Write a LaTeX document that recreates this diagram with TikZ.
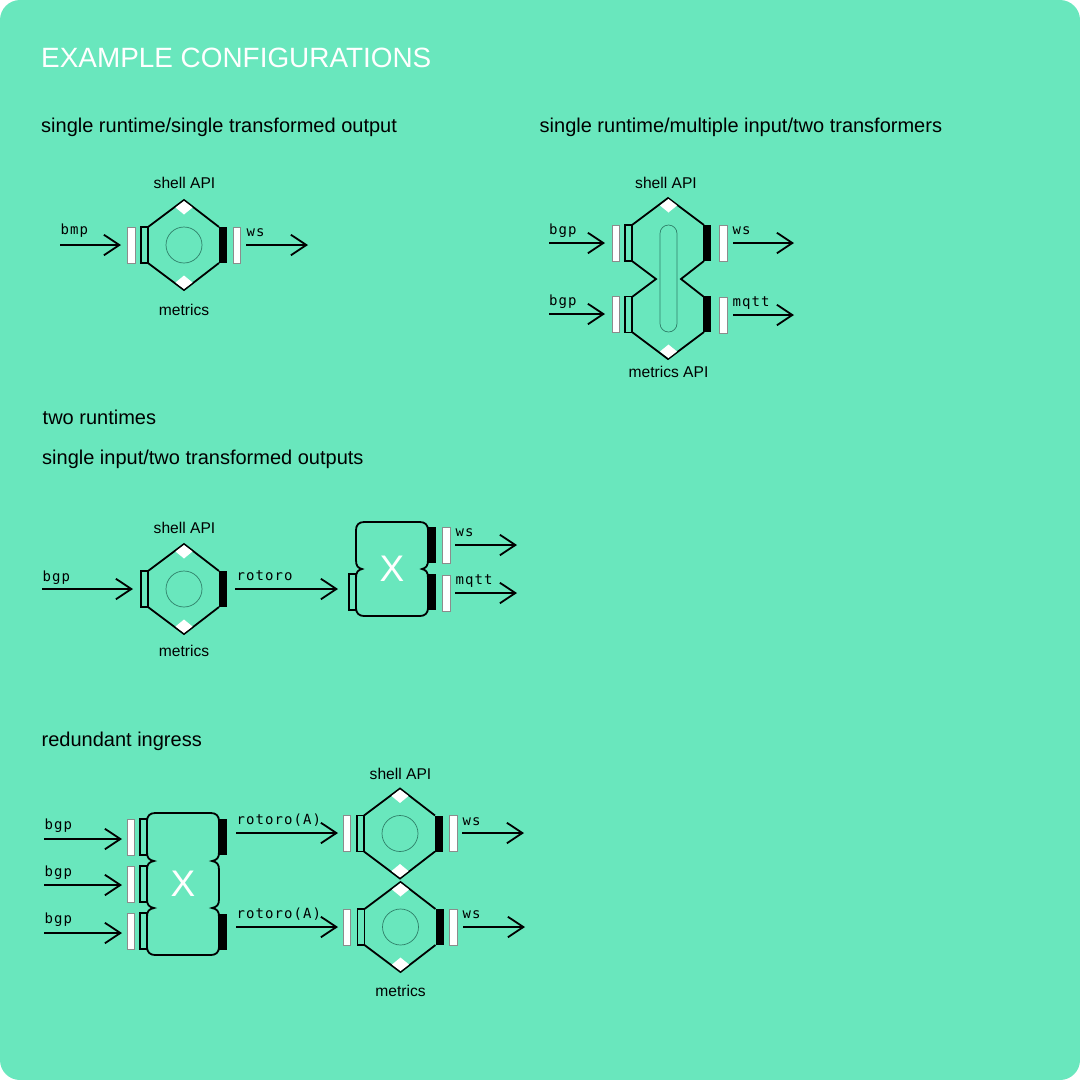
\documentclass[tikz,border=0pt]{standalone}
\usepackage{fontspec}
\setmainfont{Liberation Sans}
\newfontfamily\labfont[LetterSpace=7.5]{DejaVu Sans Mono}
\usetikzlibrary{arrows.meta}
\definecolor{bgc}{HTML}{69E7BD}
\definecolor{thinc}{HTML}{2F7F68}
\tikzset{x=1pt,y=-1pt,
 arr/.style={draw=black,line width=1.8pt,shorten >=-1pt,-{Straight Barb[length=15.5pt,width=20.5pt,line width=1.8pt]}},
 outl/.style={draw=black,line width=1.8pt,line join=miter},
 whitebar/.style={draw=black!45,line width=0.5pt,fill=white,minimum width=7.5pt,minimum height=36pt,inner sep=0pt,outer sep=0pt},
 openbar/.style={draw=black,line width=1.8pt,minimum width=6.5pt,minimum height=36pt,inner sep=0pt,outer sep=0pt},
 blackbar/.style={fill=black,draw=none,minimum width=8pt,minimum height=36pt,inner sep=0pt,outer sep=0pt},
 thinshape/.style={draw=thinc,line width=0.7pt},
 diam/.style={fill=white,draw=none},
 title/.style={font=\fontsize{27.9}{30}\selectfont,text=white,anchor=west,inner sep=0pt},
 heading/.style={font=\fontsize{20}{22}\selectfont,text=black,anchor=west,inner sep=0pt},
 api/.style={font=\fontsize{15.6}{17}\selectfont,text=black,inner sep=0pt},
 lab/.style={font=\fontsize{14}{15}\labfont,text=black,anchor=base west,inner sep=0pt},
 bigx/.style={font=\fontsize{37}{40}\selectfont,text=white,inner sep=0pt},
}
% diamond at apex: #1 x, #2 apex-y, #3 direction (+1 down / -1 up)
\newcommand{\apexdiam}[3]{\fill[diam] (#1,#2+#3*1) -- (#1+8.5,#2+#3*7.5) -- (#1,#2+#3*14.5) -- (#1-8.5,#2+#3*7.5) -- cycle;}
\newcommand{\hexcell}[3]{% name, cx, cy
 \begin{scope}[shift={(#2,#3)}]
  \draw[outl] (-36,-18) -- (0,-45) -- (35,-18);
  \draw[outl] (-36,18) -- (0,45) -- (35,18);
  \apexdiam{0}{-45}{1}
  \apexdiam{0}{45}{-1}
  \node[openbar,minimum width=7pt] (#1l) at (-39.5,0) {};
  \node[blackbar] (#1r) at (39,0) {};
  \draw[thinshape] (0,0) circle (18);
 \end{scope}}
\begin{document}
\begin{tikzpicture}
\useasboundingbox (0,0) rectangle (1080,1080);
\fill[white] (0,0) rectangle (1080,1080);
\fill[bgc,rounded corners=20pt] (0,0) rectangle (1080,1080);
\node[title] (t0) at (41,58) {EXAMPLE CONFIGURATIONS};
\node[heading] (h1) at (41,127) {single runtime/single transformed output};
\node[heading] (h2) at (539.5,127) {single runtime/multiple input/two transformers};
\node[heading] (h3) at (42.5,417) {two runtimes};
\node[heading] (h4) at (42,459) {single input/two transformed outputs};
\node[heading] (h5) at (41.5,741) {redundant ingress};

% --- config 1
\hexcell{a}{184}{245}
\node[whitebar] (aw1) at (131,245) {};
\node[whitebar] (aw2) at (236.5,245) {};
\node[api] (aup) at (184.5,183) {shell API};
\node[api] (adn) at (184,310) {metrics};
\node[lab] (al1) at (60.5,234) {bmp};
\node[lab] (al2) at (246.5,236) {ws};
\coordinate (a1s) at (60,245); \coordinate (a1e) at (120,245);
\coordinate (a2s) at (246,245); \coordinate (a2e) at (307,245);
\draw[arr] (a1s) -- (a1e);
\draw[arr] (a2s) -- (a2e);

% --- config 2
\draw[outl] (632,225) -- (668,198) -- (704,225);
\draw[outl] (632,261) -- (656,279) -- (632,297);
\draw[outl] (704,261) -- (681,279) -- (704,297);
\draw[outl] (632,332) -- (668,359) -- (704,332);
\apexdiam{668.5}{198}{1}
\apexdiam{668.5}{359}{-1}
\node[openbar,minimum width=7pt] (b1l) at (628.5,243) {};
\node[openbar,minimum width=7pt] (b2l) at (628.5,314.5) {};
\node[blackbar] (b1r) at (707,243) {};
\node[blackbar] (b2r) at (707,314) {};
\draw[thinshape] (660,233.5) arc[start angle=180,end angle=360,radius=8.5] -- (677,323.5) arc[start angle=0,end angle=180,radius=8.5] -- cycle;
\node[whitebar] (bw1) at (615.5,243) {};
\node[whitebar] (bw2) at (615.5,314.5) {};
\node[whitebar] (bw3) at (723,243) {};
\node[whitebar] (bw4) at (723,315) {};
\node[api] (bup) at (666,183) {shell API};
\node[api] (bdn) at (668.5,372) {metrics API};
\node[lab] (bl1) at (549,234) {bgp};
\node[lab] (bl2) at (549,305) {bgp};
\node[lab] (bl3) at (732.5,234) {ws};
\node[lab] (bl4) at (732.5,306) {mqtt};
\coordinate (b1s) at (549,243); \coordinate (b1e) at (604,243);
\coordinate (b2s) at (549,314); \coordinate (b2e) at (604,314);
\coordinate (b3s) at (733,243); \coordinate (b3e) at (793,243);
\coordinate (b4s) at (733,315); \coordinate (b4e) at (793,315);
\draw[arr] (b1s) -- (b1e);
\draw[arr] (b2s) -- (b2e);
\draw[arr] (b3s) -- (b3e);
\draw[arr] (b4s) -- (b4e);

% --- config 3
\hexcell{c}{184}{589}
\node[api] (cup) at (184.5,528) {shell API};
\node[api] (cdn) at (184,651) {metrics};
\node[lab] (cl1) at (42.5,581) {bgp};
\node[lab] (cl2) at (236.5,580.5) {rotoro};
\node[openbar,minimum width=7pt] (xl) at (352.5,592) {};
\draw[outl,fill=bgc] (364,522) -- (420,522) .. controls (425,522) and (428,525) .. (428,530)
 -- (428,560) .. controls (428,566) and (426,568) .. (422,569)
 .. controls (426,570) and (428,572) .. (428,578)
 -- (428,608) .. controls (428,613) and (425,616) .. (420,616)
 -- (364,616) .. controls (359,616) and (356,613) .. (356,608)
 -- (356,578) .. controls (356,572) and (358,570) .. (362,569)
 .. controls (358,568) and (356,566) .. (356,560)
 -- (356,530) .. controls (356,525) and (359,522) .. (364,522) -- cycle;
\node[blackbar] (xr1) at (431.5,545) {};
\node[blackbar] (xr2) at (431.5,592) {};
\node[bigx] (xx) at (392,569) {X};
\node[whitebar] (xw1) at (446,545) {};
\node[whitebar] (xw2) at (446,593) {};
\node[lab] (xl1) at (455.5,536) {ws};
\node[lab] (xl2) at (455.5,584) {mqtt};
\coordinate (c1s) at (42,589);
\coordinate (c3s) at (455,545); \coordinate (c3e) at (516,545);
\coordinate (c4s) at (455,593); \coordinate (c4e) at (516,593);
\coordinate (c1e) at (132,589);
\coordinate (c2s) at (235,589); \coordinate (c2e) at (337,589);
\draw[arr] (c1s) -- (c1e);
\draw[arr] (c2s) -- (c2e);
\draw[arr] (c3s) -- (c3e);
\draw[arr] (c4s) -- (c4e);

% --- config 4
\node[openbar,minimum width=7pt] (yl1) at (143.5,837) {};
\node[openbar,minimum width=7pt] (yl2) at (143.5,884) {};
\node[openbar,minimum width=7pt] (yl3) at (143.5,931) {};
\draw[outl,fill=bgc] (155,813) -- (211,813) .. controls (216,813) and (219,816) .. (219,821)
 -- (219,852) .. controls (219,858) and (217,860) .. (212,861)
 .. controls (217,862) and (219,864) .. (219,870)
 -- (219,899) .. controls (219,905) and (217,907) .. (212,908)
 .. controls (217,909) and (219,911) .. (219,917)
 -- (219,947) .. controls (219,952) and (216,955) .. (211,955)
 -- (155,955) .. controls (150,955) and (147,952) .. (147,947)
 -- (147,917) .. controls (147,911) and (149,909) .. (154,908)
 .. controls (149,907) and (147,905) .. (147,899)
 -- (147,870) .. controls (147,864) and (149,862) .. (154,861)
 .. controls (149,860) and (147,858) .. (147,852)
 -- (147,821) .. controls (147,816) and (150,813) .. (155,813) -- cycle;
\node[blackbar] (yr1) at (222.5,837) {};
\node[blackbar] (yr2) at (222.5,931.5) {};
\node[bigx] (yx) at (183,884) {X};
\node[whitebar] (yw1) at (130.5,837) {};
\node[whitebar] (yw2) at (130.5,884) {};
\node[whitebar] (yw3) at (130.5,931) {};
\node[lab] (yb1) at (44.5,829.5) {bgp};
\node[lab] (yb2) at (44.5,876) {bgp};
\node[lab] (yb3) at (44.5,923.5) {bgp};
\node[lab] (yr) at (236.5,824.5) {rotoro(A)};
\node[lab] (yq) at (236.5,918.5) {rotoro(A)};
\coordinate (d1s) at (44,839); \coordinate (d1e) at (121,839);
\coordinate (d2s) at (44,885); \coordinate (d2e) at (121,885);
\coordinate (d3s) at (44,933); \coordinate (d3e) at (121,933);
\coordinate (d4s) at (236,833); \coordinate (d4e) at (337,833);
\coordinate (d5s) at (236,927); \coordinate (d5e) at (337,927);
\draw[arr] (d1s) -- (d1e);
\draw[arr] (d2s) -- (d2e);
\draw[arr] (d3s) -- (d3e);
\draw[arr] (d4s) -- (d4e);
\draw[arr] (d5s) -- (d5e);

\hexcell{e}{400}{833.5}
\hexcell{f}{400.5}{927}
\node[whitebar] (ew1) at (346.5,833.5) {};
\node[whitebar] (ew2) at (453,833.5) {};
\node[whitebar] (fw1) at (346.5,927) {};
\node[whitebar] (fw2) at (453,927) {};
\node[api] (eup) at (400.5,774) {shell API};
\node[api] (fdn) at (400.5,990.5) {metrics};
\node[lab] (el) at (462.5,825) {ws};
\node[lab] (fl) at (462.5,918.5) {ws};
\coordinate (e1s) at (462,833); \coordinate (e1e) at (523,833);
\coordinate (f1s) at (463,927); \coordinate (f1e) at (524,927);
\draw[arr] (e1s) -- (e1e);
\draw[arr] (f1s) -- (f1e);
\end{tikzpicture}
\end{document}
